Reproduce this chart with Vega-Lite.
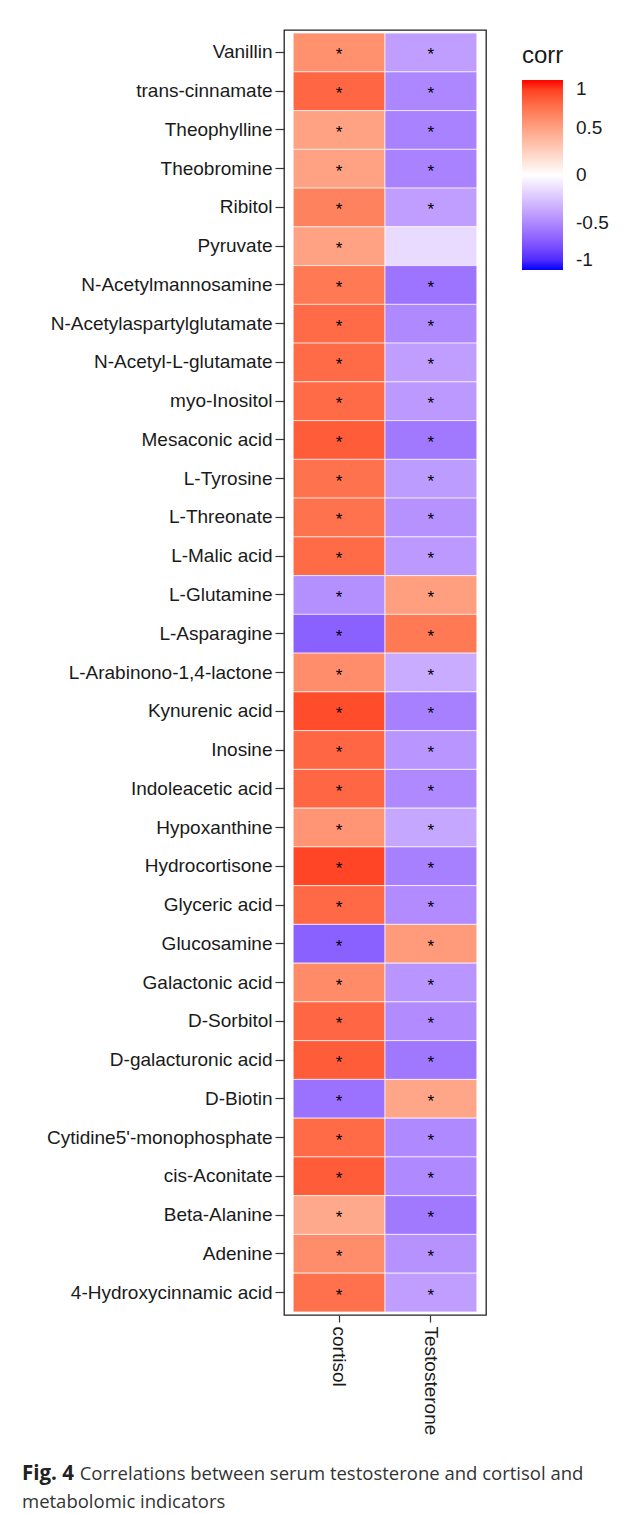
{
  "$schema": "https://vega.github.io/schema/vega-lite/v6.json",
  "autosize": {"type": "none"},
  "padding": {"left": 284, "top": 30, "right": 142, "bottom": 199},
  "width": 202,
  "height": 1285,
  "background": "white",
  "title": {
    "text": "Fig. 4",
    "subtitle": ["\u200b\u00a0\u00a0\u00a0\u00a0\u00a0\u00a0\u00a0\u00a0\u00a0\u00a0\u00a0\u00a0Correlations between serum testosterone and cortisol and", "metabolomic indicators"],
    "orient": "bottom",
    "anchor": "start",
    "frame": "group",
    "dx": -262,
    "offset": 29,
    "font": "Open Sans",
    "fontSize": 20.5,
    "fontWeight": "bold",
    "color": "#222222",
    "subtitleFont": "Open Sans",
    "subtitleFontSize": 18.5,
    "subtitleColor": "#333333",
    "subtitleLineHeight": 28,
    "subtitlePadding": -19
  },
  "data": {
    "values": [
      {"m": "Vanillin", "h": "cortisol", "corr": 0.57, "sig": "*"},
      {"m": "Vanillin", "h": "Testosterone", "corr": -0.41, "sig": "*"},
      {"m": "trans-cinnamate", "h": "cortisol", "corr": 0.76, "sig": "*"},
      {"m": "trans-cinnamate", "h": "Testosterone", "corr": -0.51, "sig": "*"},
      {"m": "Theophylline", "h": "cortisol", "corr": 0.49, "sig": "*"},
      {"m": "Theophylline", "h": "Testosterone", "corr": -0.53, "sig": "*"},
      {"m": "Theobromine", "h": "cortisol", "corr": 0.49, "sig": "*"},
      {"m": "Theobromine", "h": "Testosterone", "corr": -0.53, "sig": "*"},
      {"m": "Ribitol", "h": "cortisol", "corr": 0.64, "sig": "*"},
      {"m": "Ribitol", "h": "Testosterone", "corr": -0.41, "sig": "*"},
      {"m": "Pyruvate", "h": "cortisol", "corr": 0.49, "sig": "*"},
      {"m": "Pyruvate", "h": "Testosterone", "corr": -0.15, "sig": ""},
      {"m": "N-Acetylmannosamine", "h": "cortisol", "corr": 0.68, "sig": "*"},
      {"m": "N-Acetylmannosamine", "h": "Testosterone", "corr": -0.59, "sig": "*"},
      {"m": "N-Acetylaspartylglutamate", "h": "cortisol", "corr": 0.74, "sig": "*"},
      {"m": "N-Acetylaspartylglutamate", "h": "Testosterone", "corr": -0.5, "sig": "*"},
      {"m": "N-Acetyl-L-glutamate", "h": "cortisol", "corr": 0.74, "sig": "*"},
      {"m": "N-Acetyl-L-glutamate", "h": "Testosterone", "corr": -0.41, "sig": "*"},
      {"m": "myo-Inositol", "h": "cortisol", "corr": 0.74, "sig": "*"},
      {"m": "myo-Inositol", "h": "Testosterone", "corr": -0.43, "sig": "*"},
      {"m": "Mesaconic acid", "h": "cortisol", "corr": 0.8, "sig": "*"},
      {"m": "Mesaconic acid", "h": "Testosterone", "corr": -0.57, "sig": "*"},
      {"m": "L-Tyrosine", "h": "cortisol", "corr": 0.71, "sig": "*"},
      {"m": "L-Tyrosine", "h": "Testosterone", "corr": -0.42, "sig": "*"},
      {"m": "L-Threonate", "h": "cortisol", "corr": 0.71, "sig": "*"},
      {"m": "L-Threonate", "h": "Testosterone", "corr": -0.46, "sig": "*"},
      {"m": "L-Malic acid", "h": "cortisol", "corr": 0.74, "sig": "*"},
      {"m": "L-Malic acid", "h": "Testosterone", "corr": -0.43, "sig": "*"},
      {"m": "L-Glutamine", "h": "cortisol", "corr": -0.47, "sig": "*"},
      {"m": "L-Glutamine", "h": "Testosterone", "corr": 0.5, "sig": "*"},
      {"m": "L-Asparagine", "h": "cortisol", "corr": -0.68, "sig": "*"},
      {"m": "L-Asparagine", "h": "Testosterone", "corr": 0.68, "sig": "*"},
      {"m": "L-Arabinono-1,4-lactone", "h": "cortisol", "corr": 0.59, "sig": "*"},
      {"m": "L-Arabinono-1,4-lactone", "h": "Testosterone", "corr": -0.35, "sig": "*"},
      {"m": "Kynurenic acid", "h": "cortisol", "corr": 0.86, "sig": "*"},
      {"m": "Kynurenic acid", "h": "Testosterone", "corr": -0.54, "sig": "*"},
      {"m": "Inosine", "h": "cortisol", "corr": 0.76, "sig": "*"},
      {"m": "Inosine", "h": "Testosterone", "corr": -0.45, "sig": "*"},
      {"m": "Indoleacetic acid", "h": "cortisol", "corr": 0.76, "sig": "*"},
      {"m": "Indoleacetic acid", "h": "Testosterone", "corr": -0.5, "sig": "*"},
      {"m": "Hypoxanthine", "h": "cortisol", "corr": 0.55, "sig": "*"},
      {"m": "Hypoxanthine", "h": "Testosterone", "corr": -0.37, "sig": "*"},
      {"m": "Hydrocortisone", "h": "cortisol", "corr": 0.88, "sig": "*"},
      {"m": "Hydrocortisone", "h": "Testosterone", "corr": -0.54, "sig": "*"},
      {"m": "Glyceric acid", "h": "cortisol", "corr": 0.75, "sig": "*"},
      {"m": "Glyceric acid", "h": "Testosterone", "corr": -0.49, "sig": "*"},
      {"m": "Glucosamine", "h": "cortisol", "corr": -0.68, "sig": "*"},
      {"m": "Glucosamine", "h": "Testosterone", "corr": 0.52, "sig": "*"},
      {"m": "Galactonic acid", "h": "cortisol", "corr": 0.6, "sig": "*"},
      {"m": "Galactonic acid", "h": "Testosterone", "corr": -0.45, "sig": "*"},
      {"m": "D-Sorbitol", "h": "cortisol", "corr": 0.76, "sig": "*"},
      {"m": "D-Sorbitol", "h": "Testosterone", "corr": -0.49, "sig": "*"},
      {"m": "D-galacturonic acid", "h": "cortisol", "corr": 0.8, "sig": "*"},
      {"m": "D-galacturonic acid", "h": "Testosterone", "corr": -0.58, "sig": "*"},
      {"m": "D-Biotin", "h": "cortisol", "corr": -0.6, "sig": "*"},
      {"m": "D-Biotin", "h": "Testosterone", "corr": 0.47, "sig": "*"},
      {"m": "Cytidine5'-monophosphate", "h": "cortisol", "corr": 0.74, "sig": "*"},
      {"m": "Cytidine5'-monophosphate", "h": "Testosterone", "corr": -0.5, "sig": "*"},
      {"m": "cis-Aconitate", "h": "cortisol", "corr": 0.8, "sig": "*"},
      {"m": "cis-Aconitate", "h": "Testosterone", "corr": -0.5, "sig": "*"},
      {"m": "Beta-Alanine", "h": "cortisol", "corr": 0.45, "sig": "*"},
      {"m": "Beta-Alanine", "h": "Testosterone", "corr": -0.57, "sig": "*"},
      {"m": "Adenine", "h": "cortisol", "corr": 0.59, "sig": "*"},
      {"m": "Adenine", "h": "Testosterone", "corr": -0.46, "sig": "*"},
      {"m": "4-Hydroxycinnamic acid", "h": "cortisol", "corr": 0.72, "sig": "*"},
      {"m": "4-Hydroxycinnamic acid", "h": "Testosterone", "corr": -0.41, "sig": "*"}
    ]
  },
  "encoding": {
    "x": {
      "field": "h", "type": "nominal", "title": null,
      "sort": ["cortisol", "Testosterone"],
      "scale": {"paddingInner": 0, "paddingOuter": 0.1},
      "axis": {"labelAngle": 90, "labelAlign": "left", "labelBaseline": "middle", "labelPadding": 4, "tickSize": 7, "domain": false, "grid": false}
    },
    "y": {
      "field": "m", "type": "nominal", "title": null,
      "sort": ["Vanillin", "trans-cinnamate", "Theophylline", "Theobromine", "Ribitol", "Pyruvate", "N-Acetylmannosamine", "N-Acetylaspartylglutamate", "N-Acetyl-L-glutamate", "myo-Inositol", "Mesaconic acid", "L-Tyrosine", "L-Threonate", "L-Malic acid", "L-Glutamine", "L-Asparagine", "L-Arabinono-1,4-lactone", "Kynurenic acid", "Inosine", "Indoleacetic acid", "Hypoxanthine", "Hydrocortisone", "Glyceric acid", "Glucosamine", "Galactonic acid", "D-Sorbitol", "D-galacturonic acid", "D-Biotin", "Cytidine5'-monophosphate", "cis-Aconitate", "Beta-Alanine", "Adenine", "4-Hydroxycinnamic acid"],
      "scale": {"paddingInner": 0, "paddingOuter": 0.08},
      "axis": {"labelPadding": 3, "tickSize": 9, "domain": false, "grid": false, "labelLimit": 0}
    }
  },
  "layer": [
    {
      "mark": {"type": "rect", "stroke": "white", "strokeWidth": 0.8, "strokeOpacity": 0.8},
      "encoding": {
        "color": {
          "field": "corr", "type": "quantitative", "title": "corr",
          "scale": {"domain": [-1, 0, 1], "range": ["#0000FF", "#FFFFFF", "#FF0000"], "interpolate": "lab"},
          "legend": {
            "orient": "none", "legendX": 238, "legendY": 14,
            "direction": "vertical",
            "gradientLength": 190, "gradientThickness": 41,
            "values": [-1, -0.5, 0, 0.5, 1],
            "labelExpr": "'' + datum.value",
            "labelBaseline": "middle",
            "labelOffset": 13,
            "titlePadding": 12,
            "padding": 0
          }
        }
      }
    },
    {
      "mark": {"type": "text", "fontSize": 17, "color": "black", "font": "Liberation Sans", "baseline": "middle", "dy": 3},
      "encoding": {"text": {"field": "sig"}}
    }
  ],
  "config": {
    "view": {"stroke": "#222222", "strokeWidth": 1.3},
    "axis": {
      "labelFont": "Liberation Sans", "labelFontSize": 19, "labelColor": "#1a1a1a",
      "tickColor": "#333333", "tickWidth": 1.2
    },
    "legend": {
      "titleFont": "Liberation Sans", "titleFontSize": 24, "titleFontWeight": "normal", "titleColor": "#1a1a1a",
      "labelFont": "Liberation Sans", "labelFontSize": 19, "labelColor": "#1a1a1a"
    }
  }
}
